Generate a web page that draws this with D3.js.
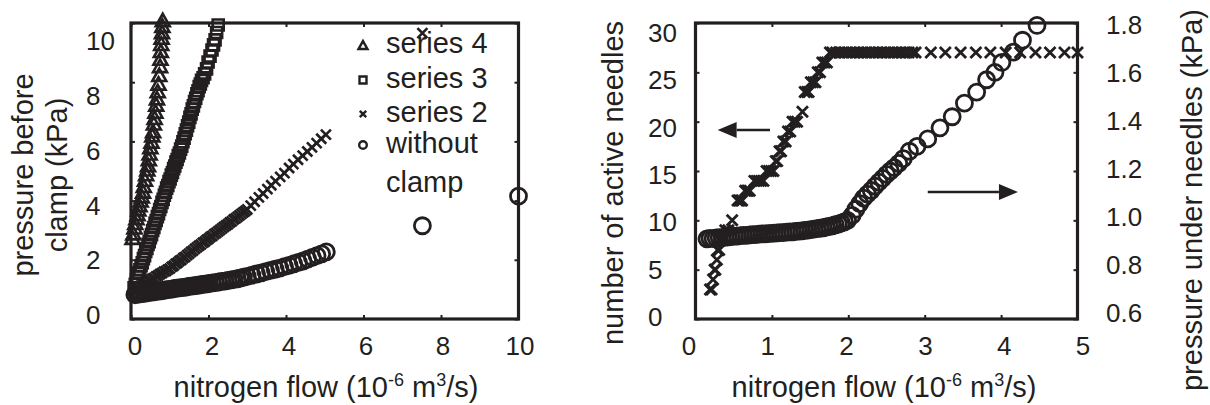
<!DOCTYPE html>
<html>
<head>
<meta charset="utf-8">
<script src="https://cdn.jsdelivr.net/npm/d3@7"></script>
<style>
  html, body { margin: 0; padding: 0; background: #fff; }
  svg { display: block; }
</style>
</head>
<body>
<svg id="fig" width="1210" height="405"></svg>
<script>
// ---------- left panel: pressure before clamp (kPa) vs nitrogen flow ----------
// [flow (1e-6 m3/s), pressure (kPa)]
const series4 = [[0.04,2.70],[0.06,2.85],[0.09,3.05],[0.11,3.20],[0.14,3.36],[0.17,3.50],[0.19,3.66],[0.22,3.80],
  [0.25,3.96],[0.28,4.10],[0.31,4.26],[0.33,4.45],[0.36,4.66],[0.39,4.85],[0.42,5.01],[0.44,5.15],[0.46,5.36],
  [0.48,5.55],[0.50,5.76],[0.53,5.95],[0.55,6.16],[0.57,6.30],[0.59,6.56],[0.61,6.75],[0.63,6.96],[0.65,7.20],
  [0.67,7.41],[0.69,7.65],[0.71,7.91],[0.73,8.20],[0.75,8.50],[0.76,8.75],[0.77,9.01],[0.78,9.25],[0.79,9.46],
  [0.80,9.65],[0.81,9.86],[0.82,10.05]];
const series3 = [[0.08,1.05],[0.11,1.17],[0.14,1.31],[0.17,1.42],[0.20,1.56],[0.23,1.66],[0.26,1.80],[0.29,1.90],
  [0.32,2.04],[0.35,2.14],[0.38,2.28],[0.41,2.38],[0.44,2.52],[0.47,2.61],[0.50,2.75],[0.53,2.85],[0.56,2.99],
  [0.59,3.09],[0.62,3.23],[0.65,3.33],[0.68,3.46],[0.71,3.56],[0.74,3.70],[0.77,3.80],[0.80,3.94],[0.83,4.04],
  [0.86,4.18],[0.89,4.28],[0.92,4.42],[0.95,4.51],[0.98,4.64],[1.01,4.73],[1.04,4.86],[1.07,4.95],[1.10,5.08],
  [1.13,5.17],[1.16,5.30],[1.19,5.39],[1.22,5.52],[1.25,5.61],[1.28,5.74],[1.31,5.84],[1.34,5.99],[1.37,6.11],
  [1.40,6.26],[1.43,6.38],[1.46,6.53],[1.49,6.65],[1.52,6.81],[1.55,6.93],[1.58,7.09],[1.61,7.20],[1.64,7.35],
  [1.67,7.46],[1.70,7.61],[1.73,7.71],[1.76,7.85],[1.79,7.94],[1.82,8.06],[1.86,8.15],[1.90,8.28],[1.95,8.45],
  [1.99,8.68],[2.04,8.88],[2.09,9.09],[2.13,9.26],[2.17,9.43],[2.21,9.68],[2.25,9.93]];
const series2 = [[0.10,1.00],[0.15,1.05],[0.20,1.07],[0.25,1.12],[0.30,1.15],[0.35,1.20],[0.40,1.23],[0.45,1.28],
  [0.50,1.31],[0.55,1.36],[0.60,1.39],[0.65,1.44],[0.70,1.47],[0.75,1.52],[0.80,1.55],[0.85,1.60],[0.90,1.62],
  [0.95,1.67],[1.00,1.70],[1.05,1.76],[1.10,1.80],[1.15,1.86],[1.20,1.90],[1.25,1.96],[1.30,2.00],[1.35,2.06],
  [1.40,2.10],[1.45,2.16],[1.50,2.21],[1.55,2.27],[1.60,2.31],[1.65,2.37],[1.70,2.42],[1.75,2.47],[1.80,2.51],
  [1.85,2.57],[1.90,2.61],[1.95,2.67],[2.00,2.71],[2.05,2.77],[2.10,2.81],[2.15,2.87],[2.20,2.91],[2.25,2.96],
  [2.30,3.01],[2.35,3.06],[2.40,3.11],[2.45,3.16],[2.50,3.20],[2.55,3.26],[2.60,3.30],[2.65,3.36],[2.70,3.40],
  [2.75,3.45],[2.80,3.50],[2.85,3.55],[2.90,3.60],[2.95,3.65],[3.00,3.70],[3.09,3.83],[3.19,3.96],[3.30,4.11],
  [3.41,4.24],[3.52,4.39],[3.62,4.52],[3.73,4.66],[3.85,4.80],[3.96,4.93],[4.08,5.10],[4.19,5.23],[4.31,5.38],
  [4.43,5.52],[4.55,5.66],[4.67,5.80],[4.79,5.94],[4.91,6.09],[5.03,6.23],[7.52,9.66]];
const withoutClamp = [[0.10,0.82],[0.16,0.83],[0.22,0.85],[0.28,0.86],[0.34,0.87],[0.40,0.88],[0.46,0.90],
  [0.52,0.91],[0.58,0.92],[0.64,0.93],[0.70,0.94],[0.76,0.95],[0.82,0.96],[0.88,0.98],[0.94,0.99],[1.00,1.00],
  [1.06,1.01],[1.12,1.03],[1.18,1.04],[1.24,1.05],[1.30,1.06],[1.36,1.07],[1.42,1.08],[1.48,1.10],[1.54,1.11],
  [1.60,1.12],[1.66,1.13],[1.72,1.14],[1.78,1.15],[1.84,1.17],[1.90,1.18],[1.96,1.19],[2.02,1.20],[2.10,1.22],
  [2.18,1.23],[2.26,1.25],[2.34,1.27],[2.42,1.28],[2.50,1.30],[2.58,1.32],[2.66,1.34],[2.74,1.36],[2.82,1.38],
  [2.90,1.41],[3.00,1.44],[3.12,1.48],[3.24,1.52],[3.36,1.56],[3.48,1.60],[3.60,1.64],[3.72,1.68],[3.84,1.72],
  [3.96,1.77],[4.08,1.81],[4.20,1.86],[4.32,1.91],[4.44,1.96],[4.56,2.02],[4.68,2.08],[4.80,2.14],[4.92,2.20],
  [5.04,2.27],[7.52,3.15],[10.00,4.15]];

const leftFlowTicks = [0, 2, 4, 6, 8, 10];
const leftPressureTicks = [0, 2, 4, 6, 8, 10];
const legendLabels = ["series 4", "series 3", "series 2", "without", "clamp"];

// ---------- right panel: active needles and pressure under needles ----------
// [flow (1e-6 m3/s), number of active needles]
const activeNeedles = [[0.19,3],[0.21,3],[0.23,4],[0.25,5],[0.26,5],[0.28,6],[0.29,7],[0.31,7],[0.33,8],[0.36,8],
  [0.39,9],[0.43,9],[0.48,10],[0.55,12],[0.57,12],[0.59,12],[0.61,12],[0.65,13],[0.67,13],[0.69,13],[0.71,13],
  [0.77,14],[0.80,14],[0.83,14],[0.86,14],[0.89,14],[0.93,15],[0.96,15],[0.99,15],[1.02,15],[1.05,16],[1.07,16],
  [1.10,17],[1.12,17],[1.15,18],[1.18,18],[1.21,19],[1.24,19],[1.27,20],[1.30,20],[1.33,20],[1.40,21],[1.43,23],
  [1.46,23],[1.48,23],[1.51,24],[1.54,24],[1.57,24],[1.60,25],[1.63,25],[1.66,26],[1.69,26],[1.72,26],[1.76,27],
  [1.79,27],[1.84,27],[1.89,27],[1.94,27],[1.99,27],[2.04,27],[2.09,27],[2.14,27],[2.19,27],[2.24,27],[2.29,27],
  [2.34,27],[2.39,27],[2.44,27],[2.49,27],[2.54,27],[2.59,27],[2.64,27],[2.69,27],[2.74,27],[2.79,27],[2.84,27],
  [2.88,27],[3.08,27],[3.27,27],[3.47,27],[3.67,27],[3.86,27],[4.06,27],[4.25,27],[4.45,27],[4.64,27],[4.83,27],
  [5.00,27]];
// [flow (1e-6 m3/s), pressure under needles (kPa)]
const underPressure = [[0.15,0.925],[0.19,0.927],[0.23,0.926],[0.27,0.929],[0.31,0.930],[0.35,0.930],[0.39,0.932],
  [0.43,0.933],[0.47,0.934],[0.51,0.936],[0.55,0.936],[0.59,0.938],[0.63,0.939],[0.67,0.939],[0.71,0.941],
  [0.75,0.942],[0.79,0.942],[0.83,0.944],[0.87,0.945],[0.91,0.945],[0.95,0.946],[0.99,0.947],[1.03,0.948],
  [1.07,0.949],[1.11,0.950],[1.15,0.950],[1.19,0.952],[1.23,0.953],[1.27,0.953],[1.31,0.955],[1.35,0.956],
  [1.39,0.957],[1.43,0.959],[1.47,0.960],[1.51,0.962],[1.55,0.964],[1.59,0.966],[1.63,0.968],[1.67,0.970],
  [1.71,0.973],[1.75,0.975],[1.79,0.978],[1.83,0.982],[1.87,0.985],[1.91,0.990],[1.95,0.994],[1.99,1.000],
  [2.05,1.020],[2.10,1.045],[2.15,1.068],[2.20,1.090],[2.25,1.106],[2.30,1.121],[2.35,1.139],[2.40,1.155],
  [2.45,1.170],[2.50,1.186],[2.55,1.200],[2.60,1.214],[2.66,1.231],[2.72,1.250],[2.80,1.280],[2.90,1.300],
  [3.04,1.330],[3.20,1.375],[3.36,1.420],[3.52,1.475],[3.68,1.520],[3.81,1.570],[3.92,1.600],[4.01,1.640],
  [4.16,1.682],[4.28,1.730],[4.47,1.790]];

const rightFlowTicks = [0, 1, 2, 3, 4, 5];
const needleTicks = [0, 5, 10, 15, 20, 25, 30];
const underTicks = [0.6, 0.8, 1.0, 1.2, 1.4, 1.6, 1.8];
// direction arrows, in data units: left one reads on the needle axis, right one on the pressure axis
const needleArrow = [[0.975, 19.15], [0.29, 19.15]];
const pressureArrow = [[3.04, 1.115], [4.22, 1.115]];

// ---------- drawing ----------
const INK = "#231f20";
const FONT = 'Arial, "Liberation Sans", Helvetica, sans-serif';
const svg = d3.select("#fig").style("font-family", FONT);

// marker shapes
const shapes = {
  tri: (w, h) => `M0,${-h * 0.62}L${w},${h * 0.38}L${-w},${h * 0.38}Z`,
  sq: (s) => `M${-s},${-s}H${s}V${s}H${-s}Z`,
  cross: (s) => `M${-s},${-s}L${s},${s}M${-s},${s}L${s},${-s}`
};

function drawFrame(g, x, y, xTicks, yTicksL, yTicksR, yRight) {
  const [x0, x1] = x.range();
  const [y0, y1] = y.range();
  const tick = (sel) => {
    sel.select(".domain").remove();
    sel.selectAll(".tick line").attr("stroke", INK).attr("stroke-width", 2);
  };
  g.append("g").attr("transform", `translate(0,${y0})`)
    .call(d3.axisBottom(x).tickValues(xTicks).tickSize(-4).tickFormat("")).call(tick);
  g.append("g").attr("transform", `translate(0,${y1})`)
    .call(d3.axisTop(x).tickValues(xTicks).tickSize(-4).tickFormat("")).call(tick);
  g.append("g").attr("transform", `translate(${x0},0)`)
    .call(d3.axisLeft(y).tickValues(yTicksL).tickSize(-4).tickFormat("")).call(tick);
  g.append("g").attr("transform", `translate(${x1},0)`)
    .call(d3.axisRight(yRight || y).tickValues(yTicksR).tickSize(-4).tickFormat("")).call(tick);
  g.append("rect").attr("x", x0).attr("y", y1).attr("width", x1 - x0).attr("height", y0 - y1)
    .attr("fill", "none").attr("stroke", INK).attr("stroke-width", 3.2);
}

function tickText(g, values, fmt, xf, yf, anchor) {
  g.append("g").selectAll("text").data(values).join("text")
    .attr("x", xf).attr("y", yf).attr("dy", "0.35em")
    .attr("text-anchor", anchor).attr("font-size", 26).attr("fill", INK)
    .text(fmt);
}

function flowTitle(g, cx) {
  const t = g.append("text").attr("x", cx).attr("y", 397).attr("text-anchor", "middle")
    .attr("font-size", 29).attr("fill", INK);
  t.append("tspan").text("nitrogen flow (10");
  t.append("tspan").attr("font-size", 18).attr("dy", -11).text("-6");
  t.append("tspan").attr("dy", 11).text(" m");
  t.append("tspan").attr("font-size", 18).attr("dy", -11).text("3");
  t.append("tspan").attr("dy", 11).text("/s)");
}

function vTitle(g, x, y, str) {
  g.append("text").attr("transform", `translate(${x},${y}) rotate(-90)`)
    .attr("text-anchor", "middle").attr("font-size", 29).attr("fill", INK).text(str);
}

function arrow(g, pts, x, y) {
  const [a, b] = pts.map(([u, v]) => [x(u), y(v)]);
  const dir = Math.sign(b[0] - a[0]);
  const head = 19, half = 8;
  g.append("line").attr("x1", a[0]).attr("y1", a[1]).attr("x2", b[0] - dir * head).attr("y2", b[1])
    .attr("stroke", INK).attr("stroke-width", 2.6);
  g.append("path")
    .attr("d", `M${b[0]},${b[1]}L${b[0] - dir * head},${b[1] - half}L${b[0] - dir * head},${b[1] + half}Z`)
    .attr("fill", INK);
}

// ----- left panel -----
const xL = d3.scaleLinear().domain([0, 10]).range([131, 518.5]);
const yL = d3.scaleLinear().domain([0, 10]).range([319, 23]);
const xLlab = d3.scaleLinear().domain([0, 10]).range([135, 520]);
const yLlab = d3.scaleLinear().domain([0, 10]).range([315, 41]);

const gl = svg.append("g");
drawFrame(gl, xL, yL, leftFlowTicks, leftPressureTicks, leftPressureTicks);

const marks = gl.append("g").attr("fill", "none").attr("stroke", INK);
marks.selectAll(".s4").data(series4).join("path").attr("class", "s4")
  .attr("transform", d => `translate(${xL(d[0])},${yL(d[1])})`)
  .attr("d", shapes.tri(7, 12.5)).attr("stroke-width", 2.6);
marks.selectAll(".s3").data(series3).join("path").attr("class", "s3")
  .attr("transform", d => `translate(${xL(d[0])},${yL(d[1])})`)
  .attr("d", shapes.sq(5.5)).attr("stroke-width", 2.6);
marks.selectAll(".s2").data(series2).join("path").attr("class", "s2")
  .attr("transform", d => `translate(${xL(d[0])},${yL(d[1])})`)
  .attr("d", shapes.cross(5)).attr("stroke-width", 2.6);
marks.selectAll(".wc").data(withoutClamp).join("circle").attr("class", "wc")
  .attr("cx", d => xL(d[0])).attr("cy", d => yL(d[1])).attr("r", 8).attr("stroke-width", 2.8);

tickText(gl, leftFlowTicks, d => d, d => xLlab(d), 346, "middle");
tickText(gl, leftPressureTicks, d => d, 86, d => yLlab(d), "start");
flowTitle(gl, 326);
vTitle(gl, 33, 175, "pressure before");
vTitle(gl, 67, 175, "clamp (kPa)");

// legend
const lg = gl.append("g");
const legendRows = [
  { y: 53, mark: "tri" }, { y: 88, mark: "sq" }, { y: 122, mark: "cross" },
  { y: 153, mark: "circle" }, { y: 192, mark: null }
];
legendRows.forEach((r, i) => {
  const my = r.y - 8;
  if (r.mark === "tri") lg.append("path").attr("transform", `translate(363,${my + 1})`)
    .attr("d", shapes.tri(4.5, 8)).attr("fill", "none").attr("stroke", INK).attr("stroke-width", 2.4);
  if (r.mark === "sq") lg.append("path").attr("transform", `translate(363,${my})`)
    .attr("d", shapes.sq(3.5)).attr("fill", "none").attr("stroke", INK).attr("stroke-width", 2.4);
  if (r.mark === "cross") lg.append("path").attr("transform", `translate(363,${my})`)
    .attr("d", shapes.cross(3.2)).attr("fill", "none").attr("stroke", INK).attr("stroke-width", 2.4);
  if (r.mark === "circle") lg.append("circle").attr("cx", 363).attr("cy", my)
    .attr("r", 3.8).attr("fill", "none").attr("stroke", INK).attr("stroke-width", 2.4);
  lg.append("text").attr("x", 386).attr("y", r.y).attr("font-size", 29).attr("fill", INK)
    .text(legendLabels[i]);
});

// ----- right panel -----
const xR = d3.scaleLinear().domain([0, 5]).range([695.5, 1077.5]);
const yN = d3.scaleLinear().domain([0, 30]).range([319, 23]);
const yP = d3.scaleLinear().domain([0.6, 1.8]).range([319, 23]);
const xRlab = d3.scaleLinear().domain([0, 5]).range([689, 1083]);
const yNlab = d3.scaleLinear().domain([0, 30]).range([317, 33]);
const yPlab = d3.scaleLinear().domain([0.6, 1.8]).range([313, 25]);

const gr = svg.append("g");
drawFrame(gr, xR, yN, rightFlowTicks, needleTicks, underTicks, yP);

const rmarks = gr.append("g").attr("fill", "none").attr("stroke", INK);
rmarks.selectAll(".nd").data(activeNeedles).join("path").attr("class", "nd")
  .attr("transform", d => `translate(${xR(d[0])},${yN(d[1])})`)
  .attr("d", shapes.cross(5.5)).attr("stroke-width", 2.8);
rmarks.selectAll(".up").data(underPressure).join("circle").attr("class", "up")
  .attr("cx", d => xR(d[0])).attr("cy", d => yP(d[1])).attr("r", 8).attr("stroke-width", 2.8);

arrow(gr, needleArrow, xR, yN);
arrow(gr, pressureArrow, xR, yP);

tickText(gr, rightFlowTicks, d => d, d => xRlab(d), 346, "middle");
tickText(gr, needleTicks, d => d, 648, d => yNlab(d), "start");
tickText(gr, underTicks, d3.format(".1f"), 1106, d => yPlab(d), "start");
flowTitle(gr, 884);
vTitle(gr, 623, 183, "number of active needles");
vTitle(gr, 1202, 200, "pressure under needles (kPa)");
</script>
</body>
</html>
